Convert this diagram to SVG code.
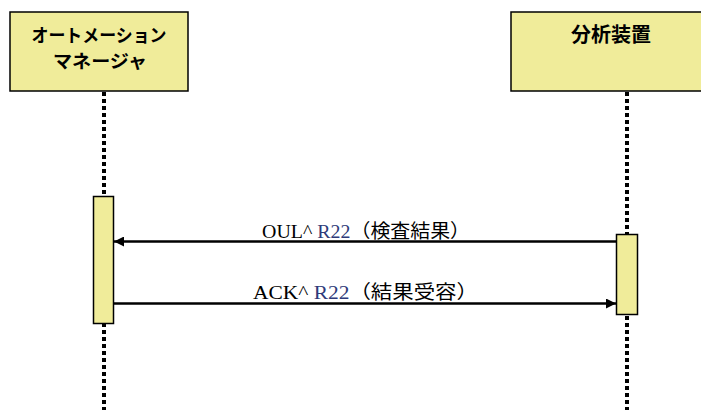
<svg xmlns="http://www.w3.org/2000/svg" width="701" height="412" viewBox="0 0 701 412">
<style>
.box{fill:#F0EC9A;stroke:#000;stroke-width:1.5}
.life{stroke:#000;stroke-width:4;stroke-dasharray:4 3;fill:none}
.hdr{font-family:"Noto Sans CJK JP","Noto Sans",sans-serif;font-weight:bold;fill:#000;text-anchor:middle}
.msg{stroke:#000;stroke-width:2.5;fill:none}
.lbl{font-family:"Liberation Serif","Noto Sans CJK JP",serif;font-size:19px;fill:#000}
.blue{fill:#2E3A7A}
</style>
<defs>
<marker id="ah" viewBox="0 0 10 10" refX="10" refY="5" markerWidth="10" markerHeight="10" markerUnits="userSpaceOnUse" orient="auto">
<path d="M0,0 L10,5 L0,10 Z" fill="#000"/>
</marker>
</defs>
<g id="lifelines">
<line class="life" x1="104" y1="92" x2="104" y2="410"/>
<line class="life" x1="627" y1="92" x2="627" y2="410"/>
</g>
<g id="automation-manager">
<rect class="box" x="10" y="12" width="178" height="79"/>
<text class="hdr" x="99" y="42" font-size="18" textLength="135" lengthAdjust="spacingAndGlyphs">オートメーション</text>
<text class="hdr" x="100" y="68" font-size="18" textLength="94" lengthAdjust="spacingAndGlyphs">マネージャ</text>
</g>
<g id="analyzer">
<rect class="box" x="511" y="12" width="220" height="79"/>
<text class="hdr" x="611" y="42" font-size="20">分析装置</text>
</g>
<g id="activation-left">
<rect class="box" x="93.5" y="196.5" width="20" height="127"/>
</g>
<g id="activation-right">
<rect class="box" x="616.5" y="234.5" width="21" height="80"/>
</g>
<g id="connectors">
<line class="msg" x1="616" y1="241.5" x2="114" y2="241.5" marker-end="url(#ah)"/>
<line class="msg" x1="114" y1="303.5" x2="616" y2="303.5" marker-end="url(#ah)"/>
<text class="lbl" x="262" y="237.5" textLength="208" lengthAdjust="spacingAndGlyphs">OUL^ <tspan class="blue">R22</tspan>（検査結果）</text>
<text class="lbl" x="253" y="298.5" textLength="225" lengthAdjust="spacingAndGlyphs">ACK^ <tspan class="blue">R22</tspan>（結果受容）</text>
</g>
</svg>
